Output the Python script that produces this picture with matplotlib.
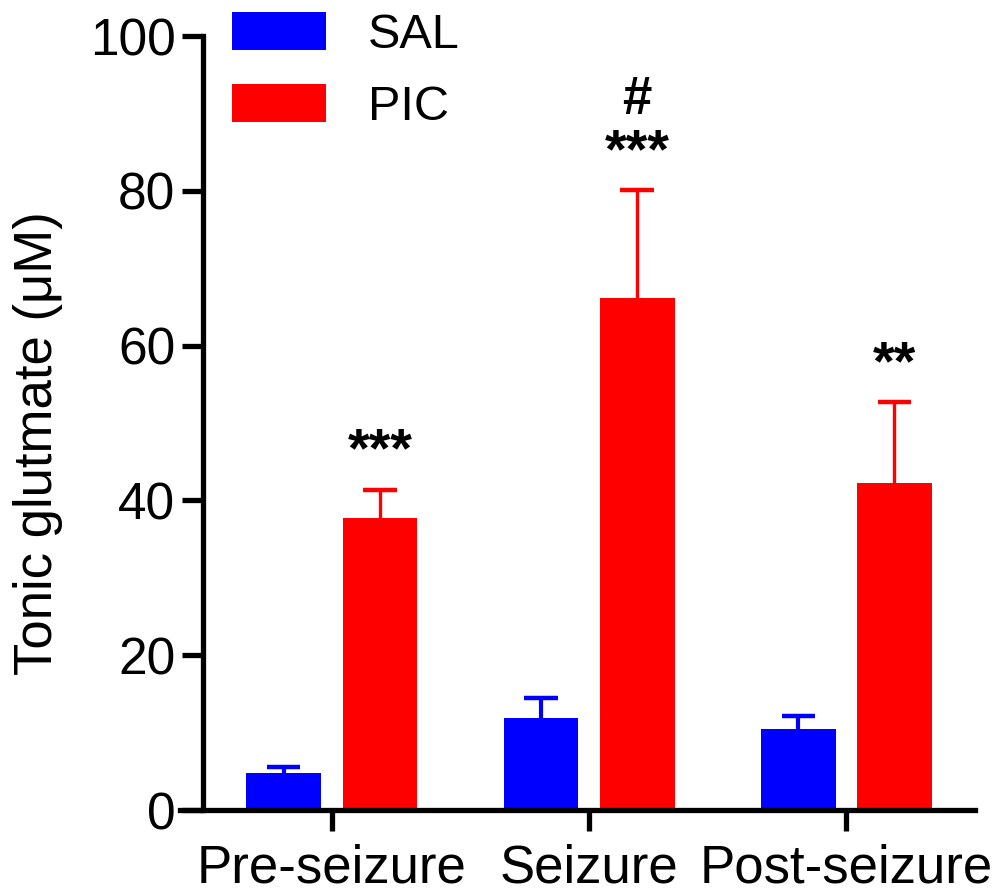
import numpy as np
import matplotlib.pyplot as plt

plt.rcParams['font.family'] = ['Liberation Sans', 'DejaVu Sans']

phases = ['Pre-seizure', 'Seizure', 'Post-seizure']
sal_mean = [4.8, 11.9, 10.5]
sal_err = [0.8, 2.6, 1.6]
pic_mean = [37.7, 66.1, 42.2]
pic_err = [3.7, 14.0, 10.5]
pic_marks = ['***', '***', '**']
pic_hash = ['', '#', '']

fig = plt.figure(figsize=(10.03, 8.92), dpi=100)
ax = fig.add_axes([0.1795, 0.0919, 0.7926, 0.8677])

x = np.arange(len(phases))
w = 0.29
off = 0.187
cap = 0.13


def up_err(xs, mean, err, color, lw):
    # only the upper half of the error bar, GraphPad style
    tops = np.array(mean) + np.array(err)
    ax.vlines(xs, mean, tops, color=color, lw=lw, zorder=1)
    ax.hlines(tops, xs - cap / 2, xs + cap / 2, color=color, lw=3.2, zorder=1)


b1 = ax.bar(x - off, sal_mean, w, color='#0000ff', label='SAL', zorder=2)
up_err(x - off, sal_mean, sal_err, '#0000ff', 3.0)
b2 = ax.bar(x + off, pic_mean, w, color='#ff0000', label='PIC', zorder=2)
up_err(x + off, pic_mean, pic_err, '#ff0000', 2.4)

# significance marks
for i in range(len(phases)):
    top = pic_mean[i] + pic_err[i]
    ax.text(x[i] + off, top + 4.8, pic_marks[i], ha='center', va='center',
            fontsize=40, fontweight='bold')
    if pic_hash[i]:
        ax.text(x[i] + off, top + 11.6, pic_hash[i], ha='center', va='center',
                fontsize=38, fontweight='bold')

ax.set_xlim(-0.59, 2.50)
ax.set_ylim(0, 100)
ax.spines['top'].set_visible(False)
ax.spines['right'].set_visible(False)
ax.spines['left'].set_position(('data', -0.5))
ax.spines['left'].set_bounds(0, 100)
for s in ['left', 'bottom']:
    ax.spines[s].set_linewidth(3.8)
    ax.spines[s].set_zorder(5)

ax.set_yticks([0, 20, 40, 60, 80, 100])
ax.set_xticks(x)
ax.set_xticklabels(phases)
ax.tick_params(axis='y', length=15, width=3.8, labelsize=37, pad=5)
ax.tick_params(axis='x', length=15, width=3.8, labelsize=38, pad=9)

fig.text(0.038, 0.503, 'Tonic glutmate (\u03bcM)', rotation=90, ha='center',
         va='center', fontsize=38)

ax.legend(handles=[b1, b2], loc='upper left', bbox_to_anchor=(0.231, 0.987),
          bbox_transform=fig.transFigure, frameon=False, fontsize=35,
          handlelength=1.95, handleheight=0.85, handletextpad=0.85,
          labelspacing=0.53, borderpad=0, borderaxespad=0)

fig.savefig('out.png', dpi=100)
